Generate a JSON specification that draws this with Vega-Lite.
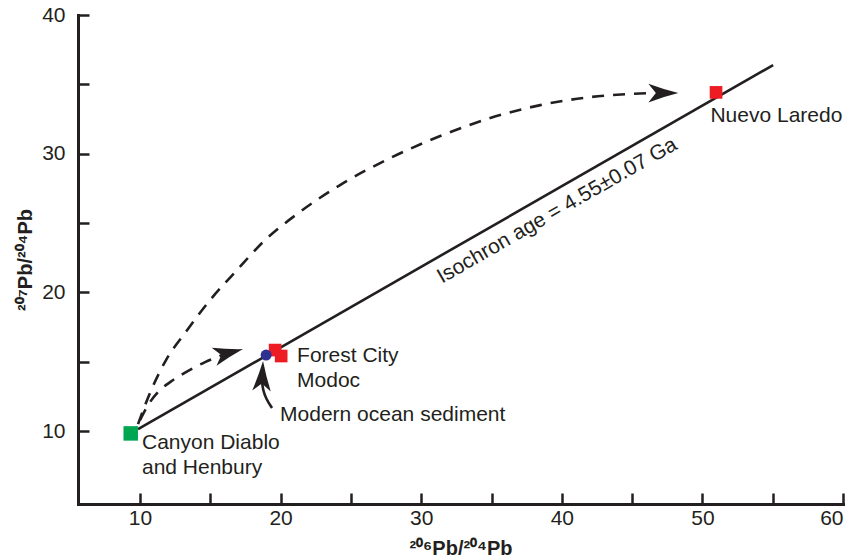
{
  "$schema": "https://vega.github.io/schema/vega-lite/v6.json",
  "autosize": "none",
  "width": 765,
  "height": 489,
  "padding": {"left": 78, "top": 15, "right": 14, "bottom": 55},
  "background": "white",
  "config": {
    "view": {"stroke": null},
    "font": "Liberation Sans",
    "axis": {
      "grid": false,
      "domainColor": "#231f20",
      "domainWidth": 3,
      "domainCap": "square",
      "tickColor": "#231f20",
      "tickWidth": 2.5,
      "tickSize": -11,
      "labelFont": "Liberation Sans",
      "labelFontSize": 21,
      "labelColor": "#231f20",
      "titleFont": "Liberation Sans",
      "titleFontSize": 20,
      "titleFontWeight": "bold",
      "titleColor": "#231f20"
    }
  },
  "datasets": {
    "paths": [
      {"path": "isochron", "order": 1, "x": 9.86, "y": 10.14},
      {"path": "isochron", "order": 2, "x": 55.03, "y": 36.39},
      {"path": "growth1", "order": 1, "x": 9.86, "y": 10.5},
      {"path": "growth1", "order": 2, "x": 10.71, "y": 12.74},
      {"path": "growth1", "order": 3, "x": 11.85, "y": 15.12},
      {"path": "growth1", "order": 4, "x": 13.2, "y": 17.07},
      {"path": "growth1", "order": 5, "x": 14.98, "y": 19.44},
      {"path": "growth1", "order": 6, "x": 16.9, "y": 21.61},
      {"path": "growth1", "order": 7, "x": 18.75, "y": 23.63},
      {"path": "growth1", "order": 8, "x": 21.17, "y": 25.65},
      {"path": "growth1", "order": 9, "x": 24.23, "y": 27.74},
      {"path": "growth1", "order": 10, "x": 27.79, "y": 29.68},
      {"path": "growth1", "order": 11, "x": 31.35, "y": 31.27},
      {"path": "growth1", "order": 12, "x": 34.91, "y": 32.57},
      {"path": "growth1", "order": 13, "x": 38.47, "y": 33.5},
      {"path": "growth1", "order": 14, "x": 42.03, "y": 34.08},
      {"path": "growth1", "order": 15, "x": 46.3, "y": 34.37},
      {"path": "growth2", "order": 1, "x": 10.0, "y": 10.79},
      {"path": "growth2", "order": 2, "x": 10.57, "y": 11.87},
      {"path": "growth2", "order": 3, "x": 11.28, "y": 12.81},
      {"path": "growth2", "order": 4, "x": 12.14, "y": 13.53},
      {"path": "growth2", "order": 5, "x": 13.27, "y": 14.25},
      {"path": "growth2", "order": 6, "x": 14.63, "y": 14.97},
      {"path": "growth2", "order": 7, "x": 15.84, "y": 15.48},
      {"path": "pointer", "order": 1, "x": 19.39, "y": 11.66},
      {"path": "pointer", "order": 2, "x": 18.97, "y": 12.31},
      {"path": "pointer", "order": 3, "x": 18.75, "y": 12.96},
      {"path": "pointer", "order": 4, "x": 18.68, "y": 13.53}
    ],
    "arrows": [
      {"arrow": "growth1", "x": 48.29, "y": 34.37, "heading": 0},
      {"arrow": "growth2", "x": 17.33, "y": 15.91, "heading": -15},
      {"arrow": "pointer", "x": 18.75, "y": 15.05, "heading": -87}
    ],
    "samples": [
      {"kind": "Canyon Diablo", "x": 9.34, "y": 9.83},
      {"kind": "meteorite", "name": "Forest City", "x": 19.61, "y": 15.84},
      {"kind": "meteorite", "name": "Modoc", "x": 20.04, "y": 15.41},
      {"kind": "meteorite", "name": "Nuevo Laredo", "x": 50.97, "y": 34.42},
      {"kind": "sediment", "name": "Modern ocean sediment", "x": 18.97, "y": 15.48}
    ],
    "labels": [
      {"label": "Canyon Diablo\nand Henbury", "x": 10.14, "y": 8.7},
      {"label": "Forest City\nModoc", "x": 21.17, "y": 14.97},
      {"label": "Modern ocean sediment", "x": 19.96, "y": 10.72},
      {"label": "Nuevo Laredo", "x": 50.57, "y": 32.26}
    ],
    "isochronLabel": [
      {"label": "Isochron age = 4.55±0.07 Ga", "x": 39.89, "y": 25.5}
    ]
  },
  "encoding": {
    "x": {
      "field": "x", "type": "quantitative",
      "scale": {"domain": [5.59, 60], "nice": false, "zero": false},
      "axis": {
        "title": "²⁰⁶Pb/²⁰⁴Pb",
        "values": [10, 15, 20, 25, 30, 35, 40, 45, 50, 55, 60],
        "labelExpr": "datum.value % 10 === 0 ? datum.label : ''",
        "labelPadding": 14,
        "titlePadding": 10
      }
    },
    "y": {
      "field": "y", "type": "quantitative",
      "scale": {"domain": [4.74, 40], "nice": false, "zero": false},
      "axis": {
        "title": "²⁰⁷Pb/²⁰⁴Pb",
        "values": [10, 15, 20, 25, 30, 35, 40],
        "labelExpr": "datum.value % 10 === 0 ? datum.label : ''",
        "labelPadding": 24,
        "titlePadding": 6
      }
    }
  },
  "layer": [
    {
      "data": {"name": "paths"},
      "transform": [{"filter": "datum.path === 'isochron'"}],
      "mark": {"type": "line", "color": "#231f20", "strokeWidth": 2.6},
      "encoding": {"order": {"field": "order", "type": "quantitative"}}
    },
    {
      "data": {"name": "paths"},
      "transform": [{"filter": "datum.path === 'growth1' || datum.path === 'growth2'"}],
      "mark": {"type": "line", "color": "#231f20", "strokeWidth": 2.6, "strokeDash": [12, 9], "interpolate": "monotone"},
      "encoding": {
        "detail": {"field": "path", "type": "nominal"},
        "order": {"field": "order", "type": "quantitative"}
      }
    },
    {
      "data": {"name": "paths"},
      "transform": [{"filter": "datum.path === 'pointer'"}],
      "mark": {"type": "line", "color": "#231f20", "strokeWidth": 2.6, "interpolate": "basis"},
      "encoding": {"order": {"field": "order", "type": "quantitative"}}
    },
    {
      "data": {"name": "arrows"},
      "mark": {
        "type": "point",
        "shape": "M0,0 Q-1,-0.25 -2,-0.62 L-1.5,0 L-2,0.62 Q-1,0.25 0,0 Z",
        "filled": true,
        "color": "#231f20",
        "opacity": 1,
        "size": 900
      },
      "encoding": {"angle": {"field": "heading", "type": "quantitative", "scale": null}}
    },
    {
      "data": {"name": "samples"},
      "transform": [{"filter": "datum.kind === 'Canyon Diablo'"}],
      "mark": {"type": "point", "shape": "square", "filled": true, "color": "#00a651", "opacity": 1, "size": 210}
    },
    {
      "data": {"name": "samples"},
      "transform": [{"filter": "datum.kind === 'meteorite'"}],
      "mark": {"type": "point", "shape": "square", "filled": true, "color": "#ed1c24", "opacity": 1, "size": 160}
    },
    {
      "data": {"name": "samples"},
      "transform": [{"filter": "datum.kind === 'sediment'"}],
      "mark": {"type": "point", "shape": "circle", "filled": true, "color": "#2e3192", "opacity": 1, "size": 121}
    },
    {
      "data": {"name": "labels"},
      "mark": {"type": "text", "align": "left", "baseline": "alphabetic", "fontSize": 21, "lineHeight": 25, "lineBreak": "\n", "color": "#231f20", "font": "Liberation Sans"},
      "encoding": {"text": {"field": "label", "type": "nominal"}}
    },
    {
      "data": {"name": "isochronLabel"},
      "mark": {"type": "text", "align": "center", "baseline": "alphabetic", "fontSize": 21, "angle": -29.8, "color": "#231f20", "font": "Liberation Sans"},
      "encoding": {"text": {"field": "label", "type": "nominal"}}
    }
  ]
}
